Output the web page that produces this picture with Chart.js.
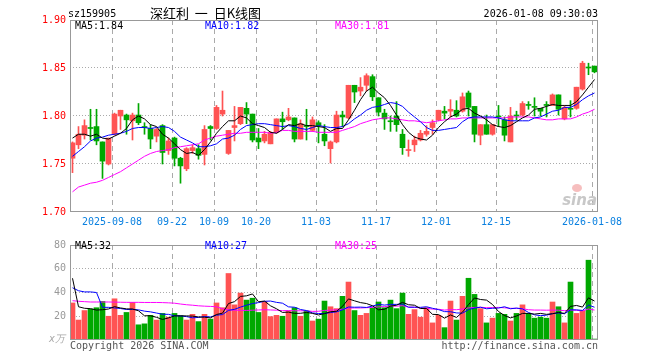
<!DOCTYPE html>
<html>
<head>
<meta charset="utf-8">
<script src="https://cdn.jsdelivr.net/npm/chart.js@4.4.1/dist/chart.umd.min.js"></script>
<style>
  body { margin: 0; background: #fff; }
  #wrap { position: relative; width: 660px; height: 360px; overflow: hidden; font-family: "DejaVu Sans Mono", monospace; font-size: 10px; }
  #wrap canvas { position: absolute; left: 0; }
  .t { position: absolute; white-space: pre; line-height: 12px; }
</style>
</head>
<body>
<div id="wrap">
  <canvas id="kline" width="660" height="235" style="top:0"></canvas>
  <canvas id="vol" width="660" height="125" style="top:235px"></canvas>

  <div class="t" style="left:68px;top:8px">sz159905</div>
  <div class="t" style="left:150px;top:5px;font-family:'Noto Sans CJK SC';font-size:13px;line-height:16px">深红利  一  日K线图</div>
  <div class="t" style="right:62px;top:8px">2026-01-08 09:30:03</div>

  <div class="t" style="left:75px;top:20px;color:#000">MA5:1.84</div>
  <div class="t" style="left:205px;top:20px;color:#0000ff">MA10:1.82</div>
  <div class="t" style="left:335px;top:20px;color:#ff00ff">MA30:1.81</div>

  <div class="t" style="left:75px;top:240px;color:#000">MA5:32</div>
  <div class="t" style="left:205px;top:240px;color:#0000ff">MA10:27</div>
  <div class="t" style="left:335px;top:240px;color:#ff00ff">MA30:25</div>

  <div class="t" style="left:49px;top:333px;color:#aaa;font-style:italic">x万</div>
  <div class="t" style="left:70px;top:340px;color:#555">Copyright 2026 SINA.COM</div>
  <div class="t" style="right:62px;top:340px;color:#555">http://finance.sina.com.cn</div>
</div>

<script>
const RED = '#ff5353';
const GREEN = '#00a800';
const MONO = '"DejaVu Sans Mono", monospace';
const X0 = 1 / 12; // keeps 5px bodies on whole pixels

const dates = [
  '2025-08-28','2025-08-29',
  '2025-09-01','2025-09-02','2025-09-03','2025-09-04','2025-09-05',
  '2025-09-08','2025-09-09','2025-09-10','2025-09-11','2025-09-12',
  '2025-09-15','2025-09-16','2025-09-17','2025-09-18','2025-09-19',
  '2025-09-22','2025-09-23','2025-09-24','2025-09-25','2025-09-26',
  '2025-09-29','2025-09-30',
  '2025-10-09','2025-10-10',
  '2025-10-13','2025-10-14','2025-10-15','2025-10-16','2025-10-17',
  '2025-10-20','2025-10-21','2025-10-22','2025-10-23','2025-10-24',
  '2025-10-27','2025-10-28','2025-10-29','2025-10-30','2025-10-31',
  '2025-11-03','2025-11-04','2025-11-05','2025-11-06','2025-11-07',
  '2025-11-10','2025-11-11','2025-11-12','2025-11-13','2025-11-14',
  '2025-11-17','2025-11-18','2025-11-19','2025-11-20','2025-11-21',
  '2025-11-24','2025-11-25','2025-11-26','2025-11-27','2025-11-28',
  '2025-12-01','2025-12-02','2025-12-03','2025-12-04','2025-12-05',
  '2025-12-08','2025-12-09','2025-12-10','2025-12-11','2025-12-12',
  '2025-12-15','2025-12-16','2025-12-17','2025-12-18','2025-12-19',
  '2025-12-22','2025-12-23','2025-12-24','2025-12-25','2025-12-26',
  '2025-12-29','2025-12-30','2025-12-31',
  '2026-01-05','2026-01-06','2026-01-07','2026-01-08'
];

const tickDates = ['2025-09-08','2025-09-22','2025-10-09','2025-10-20','2025-11-03','2025-11-17','2025-12-01','2025-12-15','2026-01-08'];
const tickText = ['2025-09-08','09-22','10-09','10-20','11-03','11-17','12-01','12-15','2026-01-08'];
const priceTicks = [1.70, 1.75, 1.80, 1.85, 1.90];
const volTicks = [0, 20, 40, 60, 80];

const open = [1.756,1.770,1.780,1.788,1.789,1.773,1.750,1.781,1.800,1.801,
  1.795,1.801,1.789,1.787,1.779,1.790,1.764,1.777,1.756,1.745,
  1.764,1.766,1.760,1.789,1.787,1.802,1.761,1.788,1.792,1.808,
  1.802,1.777,1.774,1.771,1.783,1.797,1.796,1.798,1.776,1.790,
  1.785,1.793,1.781,1.766,1.773,1.801,1.798,1.832,1.826,1.832,
  1.841,1.819,1.803,1.795,1.800,1.781,1.764,1.770,1.775,1.781,
  1.788,1.796,1.805,1.805,1.806,1.805,1.824,1.810,1.780,1.791,
  1.781,1.800,1.796,1.773,1.801,1.801,1.812,1.810,1.808,1.812,
  1.811,1.822,1.797,1.808,1.808,1.828,1.851,1.852];
const close = [1.772,1.781,1.790,1.787,1.774,1.753,1.777,1.802,1.806,1.796,
  1.801,1.793,1.788,1.776,1.786,1.762,1.774,1.756,1.748,1.766,
  1.767,1.759,1.786,1.787,1.809,1.806,1.785,1.790,1.809,1.802,
  1.775,1.773,1.781,1.783,1.797,1.794,1.799,1.776,1.792,1.789,
  1.796,1.790,1.774,1.773,1.801,1.799,1.832,1.825,1.830,1.842,
  1.820,1.804,1.797,1.794,1.791,1.767,1.765,1.775,1.782,1.784,
  1.793,1.806,1.803,1.807,1.800,1.820,1.809,1.781,1.791,1.781,
  1.791,1.799,1.780,1.800,1.800,1.813,1.811,1.809,1.805,1.811,
  1.822,1.807,1.809,1.807,1.830,1.855,1.850,1.846];
const high = [1.773,1.789,1.796,1.807,1.807,1.773,1.777,1.803,1.806,1.802,
  1.803,1.813,1.793,1.791,1.787,1.791,1.777,1.778,1.757,1.767,
  1.770,1.770,1.790,1.790,1.811,1.826,1.785,1.810,1.809,1.814,
  1.802,1.787,1.784,1.784,1.797,1.804,1.808,1.798,1.796,1.807,
  1.799,1.795,1.791,1.774,1.805,1.805,1.832,1.832,1.840,1.844,
  1.843,1.819,1.807,1.800,1.815,1.786,1.775,1.779,1.785,1.790,
  1.796,1.806,1.810,1.817,1.816,1.824,1.826,1.810,1.791,1.801,
  1.791,1.811,1.799,1.809,1.805,1.815,1.815,1.819,1.808,1.815,
  1.823,1.822,1.811,1.816,1.830,1.857,1.855,1.852];
const low = [1.741,1.766,1.776,1.775,1.770,1.735,1.749,1.780,1.786,1.781,
  1.775,1.791,1.781,1.766,1.773,1.750,1.760,1.748,1.730,1.743,
  1.761,1.755,1.749,1.775,1.786,1.800,1.760,1.774,1.791,1.792,
  1.773,1.766,1.772,1.771,1.782,1.786,1.795,1.773,1.776,1.775,
  1.784,1.772,1.769,1.751,1.772,1.789,1.797,1.814,1.821,1.826,
  1.816,1.800,1.786,1.784,1.784,1.760,1.758,1.763,1.774,1.779,
  1.781,1.795,1.797,1.799,1.799,1.804,1.800,1.773,1.770,1.781,
  1.780,1.789,1.774,1.773,1.796,1.800,1.807,1.800,1.800,1.799,
  1.811,1.801,1.796,1.799,1.807,1.827,1.843,1.845];

const ma5 = [1.777,1.781,1.781,1.779,1.781,1.777,1.776,1.779,1.782,1.787,
  1.796,1.800,1.797,1.791,1.789,1.781,1.777,1.771,1.765,1.761,
  1.762,1.759,1.765,1.773,1.782,1.789,1.795,1.795,1.800,1.798,
  1.792,1.790,1.788,1.783,1.782,1.786,1.791,1.790,1.792,1.790,
  1.790,1.789,1.788,1.784,1.787,1.787,1.796,1.806,1.817,1.826,
  1.830,1.824,1.819,1.811,1.801,1.791,1.783,1.778,1.776,1.775,
  1.780,1.788,1.794,1.799,1.802,1.807,1.808,1.803,1.800,1.796,
  1.791,1.789,1.788,1.790,1.794,1.798,1.801,1.807,1.808,1.810,
  1.812,1.811,1.811,1.811,1.815,1.822,1.830,1.838];
const ma10 = [1.758,1.763,1.768,1.774,1.777,1.778,1.780,1.781,1.782,1.784,
  1.787,1.788,1.788,1.787,1.788,1.789,1.788,1.784,1.778,1.775,
  1.772,1.768,1.768,1.769,1.771,1.776,1.777,1.780,1.786,1.790,
  1.791,1.792,1.792,1.791,1.790,1.789,1.790,1.789,1.787,1.786,
  1.788,1.790,1.789,1.788,1.788,1.789,1.792,1.797,1.801,1.806,
  1.809,1.810,1.812,1.814,1.813,1.810,1.804,1.799,1.794,1.788,
  1.785,1.785,1.786,1.787,1.788,1.794,1.798,1.799,1.799,1.799,
  1.799,1.798,1.796,1.795,1.795,1.795,1.795,1.798,1.799,1.802,
  1.805,1.806,1.809,1.809,1.812,1.817,1.821,1.824];
const ma30 = [1.721,1.726,1.728,1.730,1.731,1.733,1.736,1.739,1.742,1.746,
  1.750,1.754,1.758,1.761,1.763,1.764,1.765,1.767,1.768,1.769,
  1.770,1.771,1.775,1.777,1.779,1.780,1.781,1.782,1.782,1.783,
  1.783,1.783,1.783,1.782,1.783,1.785,1.785,1.784,1.784,1.784,
  1.784,1.783,1.783,1.783,1.783,1.785,1.787,1.789,1.792,1.794,
  1.796,1.797,1.798,1.798,1.797,1.796,1.795,1.795,1.794,1.793,
  1.794,1.795,1.796,1.797,1.797,1.798,1.798,1.798,1.798,1.798,
  1.798,1.798,1.798,1.799,1.799,1.799,1.799,1.798,1.797,1.796,
  1.796,1.797,1.797,1.797,1.799,1.802,1.804,1.807];

// volume, in 万
const vol = [31.2,16.8,24.8,26.1,27.2,32.5,20,34.7,20.8,23.2,
  31.7,12.8,13.6,20.8,16.8,22.4,19.2,22.4,20.5,16.8,
  21.6,15.5,21.6,17.6,31.2,27.2,56,29.6,39.5,33.6,
  35.2,23.2,32.5,19.7,20.8,20,24.5,27.2,20,24.5,
  16,17.6,32.8,28,26.4,36.8,48.8,24.8,20.8,22.4,
  27.2,32,27.2,33.6,26.4,39.5,21.6,25.6,19.2,27.2,
  14.4,20.8,10.4,32.8,16.8,36.8,52,38.4,26.4,14.4,
  18.4,22.4,21.6,16,22.4,29.6,22.4,18.4,19.2,18.4,
  32,28,14.4,48.8,22.4,24.8,67.2,0.8];
const vma5 = [52,28,26.7,26.4,25.2,25.5,26.1,28.1,27.0,26.2,
  26.1,24.6,20.4,20.4,19.1,17.3,18.6,20.3,20.3,20.3,
  20.1,19.4,19.2,18.6,21.5,22.6,30.7,32.3,36.7,37.2,
  38.8,32.2,32.8,28.8,26.3,23.2,23.5,22.4,22.5,23.2,
  22.4,21.1,22.2,23.8,24.2,28.3,34.6,33.0,31.5,30.7,
  28.8,25.4,25.9,28.5,29.3,31.7,29.7,29.3,26.5,26.6,
  21.6,21.4,18.4,21.1,19.0,23.5,29.8,35.4,34.1,33.6,
  29.9,24.0,20.6,18.6,20.2,22.4,22.4,21.8,22.4,21.6,
  22.1,23.2,22.4,28.3,29.1,27.7,35.5,32.8];
const vma10 = [44,41.5,40.5,40.5,40,27.5,27.5,27,26.5,25.7,
  25.8,25.4,24.3,23.7,22.7,21.7,21.6,20.4,20.3,19.7,
  18.7,19.0,19.8,19.4,20.9,21.4,25.0,25.8,27.7,29.3,
  30.7,31.5,32.6,32.8,31.7,31.0,27.9,27.6,25.7,24.8,
  22.8,22.3,22.3,23.1,23.7,25.4,27.8,27.6,27.7,27.4,
  28.6,30.0,29.4,30.0,30.0,30.3,27.6,27.6,27.5,28.0,
  26.7,25.6,23.9,23.8,22.8,22.6,25.6,26.9,27.6,26.3,
  26.7,26.9,28.0,26.3,26.9,26.2,23.2,21.2,20.5,20.9,
  22.2,22.8,22.1,25.4,25.4,24.9,29.4,27.6];
const vma30 = [33.1,32.6,32.3,32,32,32,32,31.9,31.8,31.7,
  31.7,31.7,31.6,31.6,31.6,31.5,31.3,31,30.3,29.7,
  29.3,28.8,28.5,28.3,28,26.3,25.4,25.1,25,24.9,
  25.1,25.3,25.5,25.3,25.1,24.7,24.8,24.6,24.6,24.6,
  24.1,24.2,24.9,25.1,25.4,25.9,26.9,27.0,27.0,27.2,
  27.4,27.9,28.1,28.6,28.5,28.9,27.7,27.6,26.9,26.7,
  26.0,25.9,25.2,25.6,25.5,26.1,27.0,27.4,27.6,27.2,
  27.3,27.5,27.1,26.7,26.6,26.3,25.5,25.2,25.2,25.1,
  25.2,25.1,24.7,25.2,25.0,24.5,26.1,25.2];

const pos = dates.map((d, i) => i + 0.5);
const tickPos = tickDates.map(d => dates.indexOf(d) + X0);
const candleColor = close.map((c, i) => c >= open[i] ? RED : GREEN);
const pts = arr => arr.map((v, i) => ({ x: pos[i], y: v }));

const maLine = (arr, color) => ({
  type: 'line', data: pts(arr), borderColor: color, borderWidth: 1,
  pointRadius: 0, tension: 0, order: 0
});

const frame = {
  id: 'frame',
  afterDraw(chart) {
    const { ctx, chartArea: a } = chart;
    ctx.save();
    ctx.strokeStyle = '#999';
    ctx.lineWidth = 1;
    ctx.strokeRect(a.left + 0.5, a.top + 0.5, a.width - 1, a.height - 1);
    ctx.restore();
  }
};

const sinaMark = {
  id: 'sinaMark',
  beforeDatasetsDraw(chart) {
    const { ctx, chartArea: a } = chart;
    ctx.save();
    ctx.fillStyle = 'rgba(235,110,110,0.45)';
    ctx.beginPath();
    ctx.ellipse(a.right - 21, a.bottom - 24, 5, 4, 0, 0, Math.PI * 2);
    ctx.fill();
    ctx.fillStyle = '#c8c8c8';
    ctx.font = 'italic bold 15px "DejaVu Sans"';
    ctx.textAlign = 'right';
    ctx.fillText('sina', a.right - 1, a.bottom - 7);
    ctx.restore();
  }
};

function xAxis(showLabels, height) {
  return {
    type: 'linear', min: X0, max: X0 + dates.length, offset: false, bounds: 'data',
    afterBuildTicks: s => { s.ticks = tickPos.map(v => ({ value: v })); },
    afterFit: s => { s.height = height; },
    grid: { color: '#aaa', lineWidth: 1, drawTicks: false, offset: false },
    border: { display: false, dash: [5, 4] },
    ticks: {
      display: showLabels, autoSkip: false, maxRotation: 0, padding: 4,
      color: '#0a80e0', font: { family: MONO, size: 10 },
      callback: (v, i) => tickText[i]
    }
  };
}

function yAxis(min, max, ticks, color, fmt) {
  return {
    min: min, max: max,
    afterBuildTicks: s => { s.ticks = ticks.map(v => ({ value: v })); },
    afterFit: s => { s.width = 70; },
    grid: {
      drawTicks: false, lineWidth: 1,
      color: c => (c.tick && (Math.abs(c.tick.value - min) < 1e-6 || Math.abs(c.tick.value - max) < 1e-6)) ? 'rgba(0,0,0,0)' : '#aaa'
    },
    border: { display: false, dash: [1, 2] },
    ticks: { color: color, padding: 4, font: { family: MONO, size: 10 }, callback: fmt }
  };
}

new Chart(document.getElementById('kline'), {
  type: 'bar',
  data: {
    datasets: [
      maLine(ma5, '#000000'),
      maLine(ma10, '#0000ff'),
      maLine(ma30, '#ff00ff'),
      { data: open.map((v, i) => ({ x: pos[i], y: [v, close[i]] })), backgroundColor: candleColor,
        barThickness: 5, minBarLength: 1, grouped: false, order: 1 },
      { data: low.map((v, i) => ({ x: pos[i], y: [v, high[i]] })), backgroundColor: candleColor,
        barThickness: 1, grouped: false, order: 2 }
    ]
  },
  options: {
    responsive: false, animation: false, events: [],
    layout: { padding: { left: 0, right: 62, top: 20, bottom: 0 } },
    plugins: { legend: { display: false }, tooltip: { enabled: false } },
    scales: {
      x: xAxis(true, 23),
      y: yAxis(1.70, 1.90, priceTicks, '#ff0000', v => v.toFixed(2))
    }
  },
  plugins: [sinaMark, frame]
});

new Chart(document.getElementById('vol'), {
  type: 'bar',
  data: {
    datasets: [
      maLine(vma5, '#000000'),
      maLine(vma10, '#0000ff'),
      maLine(vma30, '#ff00ff'),
      { data: pts(vol), backgroundColor: candleColor, barThickness: 5, grouped: false, order: 1 }
    ]
  },
  options: {
    responsive: false, animation: false, events: [],
    layout: { padding: { left: 0, right: 62, top: 5, bottom: 0 } },
    plugins: { legend: { display: false }, tooltip: { enabled: false } },
    scales: {
      x: xAxis(false, 20),
      y: yAxis(0, 80, volTicks, '#999', v => v === 0 ? '' : v)
    }
  },
  plugins: [frame]
});
</script>
</body>
</html>
